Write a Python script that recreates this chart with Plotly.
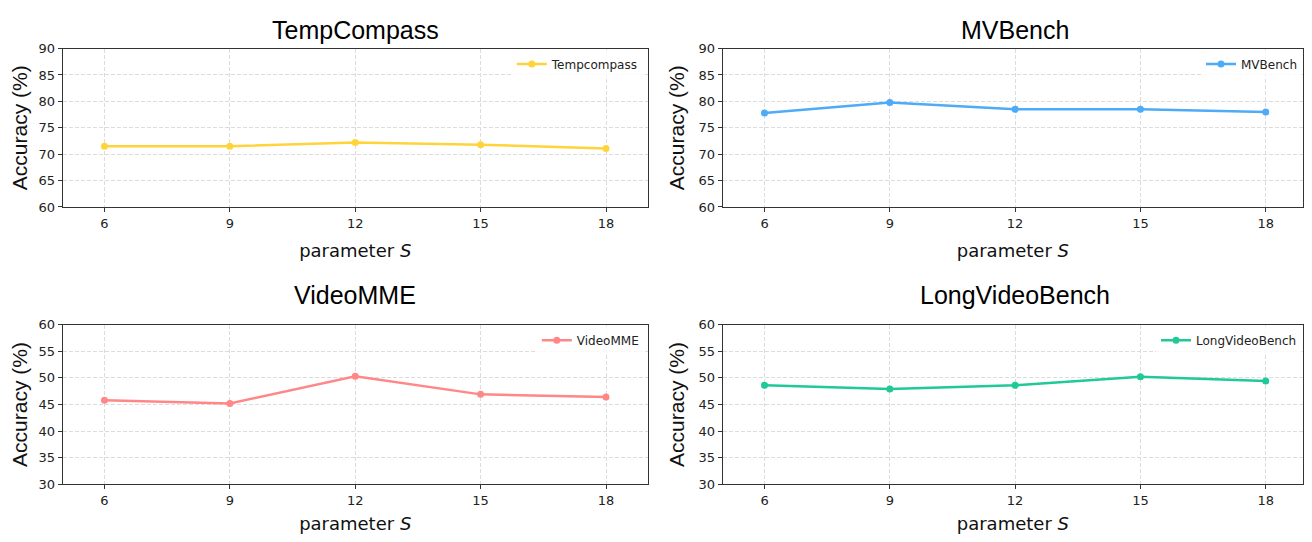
import plotly.graph_objects as go

s_values = [6, 9, 12, 15, 18]
tempcompass = [71.5, 71.5, 72.2, 71.8, 71.1]
mvbench = [77.8, 79.8, 78.5, 78.5, 78.0]
videomme = [45.8, 45.2, 50.3, 46.9, 46.4]
longvideobench = [48.6, 47.9, 48.6, 50.2, 49.4]

titles = ["TempCompass", "MVBench", "VideoMME", "LongVideoBench"]
legend_names = ["Tempcompass", "MVBench", "VideoMME", "LongVideoBench"]
series = [tempcompass, mvbench, videomme, longvideobench]
colors = ["#FFD43B", "#4DABF7", "#FF8787", "#20C997"]
y_ranges = [[60, 90], [60, 90], [30, 60], [30, 60]]

OFF = 8
W, H = 1296, 526


def px_x(p):
    return min(1.0, (p - OFF) / W)


def px_y(p):
    q = (p - 7.4) / 0.97
    return min(1.0, 1 - (q - OFF) / H)


x_domains = [[px_x(62.7), px_x(648.3)], [px_x(723.3), 1.0]]
right_px_end = OFF + W
x_ranges = [[5, 19], [5, 18 + (right_px_end - 1266.7) / 41.8]]
top_px = [49.3, 330.0]
bottom_px = [210.3, 492.0]
y_domains = [[px_y(bottom_px[0]), px_y(top_px[0])], [px_y(bottom_px[1]), px_y(top_px[1])]]

fig = go.Figure()
tick_font = dict(family="DejaVu Sans", size=13, color="#222")
annotations = []

for i in range(4):
    r, c = divmod(i, 2)
    idx = "" if i == 0 else str(i + 1)
    xa = "x" + idx
    ya = "y" + idx
    leg = "legend" if i == 0 else "legend" + str(i + 1)
    fig.add_trace(go.Scatter(
        x=s_values, y=series[i], mode="lines+markers", name=legend_names[i],
        line=dict(color=colors[i], width=2.5),
        marker=dict(color=colors[i], size=7),
        xaxis=xa, yaxis=ya, legend=leg, showlegend=True,
    ))
    common = dict(
        showline=True, linecolor="#333", linewidth=1, mirror=True,
        ticks="outside", ticklen=4, tickcolor="#333", tickwidth=1,
        showgrid=True, gridcolor="#dcdcdc", griddash="4px,2px", gridwidth=1,
        zeroline=False, tickfont=tick_font,
    )
    fig.layout["xaxis" + idx] = dict(
        domain=x_domains[c], anchor=ya, range=x_ranges[c],
        tickmode="array", tickvals=s_values, ticktext=[str(v) for v in s_values],
        title=dict(text="parameter <i>S</i>", font=dict(family="DejaVu Sans", size=18, color="#111"), standoff=14),
        **common,
    )
    fig.layout["yaxis" + idx] = dict(
        domain=y_domains[r], anchor=xa, range=y_ranges[i],
        tickmode="linear", tick0=y_ranges[i][0], dtick=5,
        title=dict(text="Accuracy (%)", font=dict(family="Liberation Sans", size=21, color="#111"), standoff=8),
        **common,
    )
    legend_right = 648.3 - 4 if c == 0 else 1307.0 - 4
    fig.layout[leg] = dict(
        x=px_x(legend_right), y=px_y(top_px[r] + 1),
        xanchor="right", yanchor="top", bgcolor="rgba(255,255,255,0.8)",
        font=dict(family="DejaVu Sans", size=12, color="#222"),
        borderwidth=0, itemwidth=30,
    )
    title_center = 355.5 if c == 0 else 1016.0
    if r == 0:
        title_y, title_anchor = 1.0, "top"
    else:
        title_y, title_anchor = px_y(top_px[r] - 30), "middle"
    annotations.append(dict(
        text=titles[i], x=px_x(title_center),
        y=title_y, xref="paper", yref="paper",
        xanchor="center", yanchor=title_anchor, showarrow=False, borderpad=0,
        font=dict(family="Liberation Sans", size=25, color="#000"),
    ))

fig.update_layout(
    width=W, height=H, margin=dict(l=0, r=0, t=0, b=0),
    paper_bgcolor="white", plot_bgcolor="white",
    annotations=annotations,
)

fig.write_html("out.html")
